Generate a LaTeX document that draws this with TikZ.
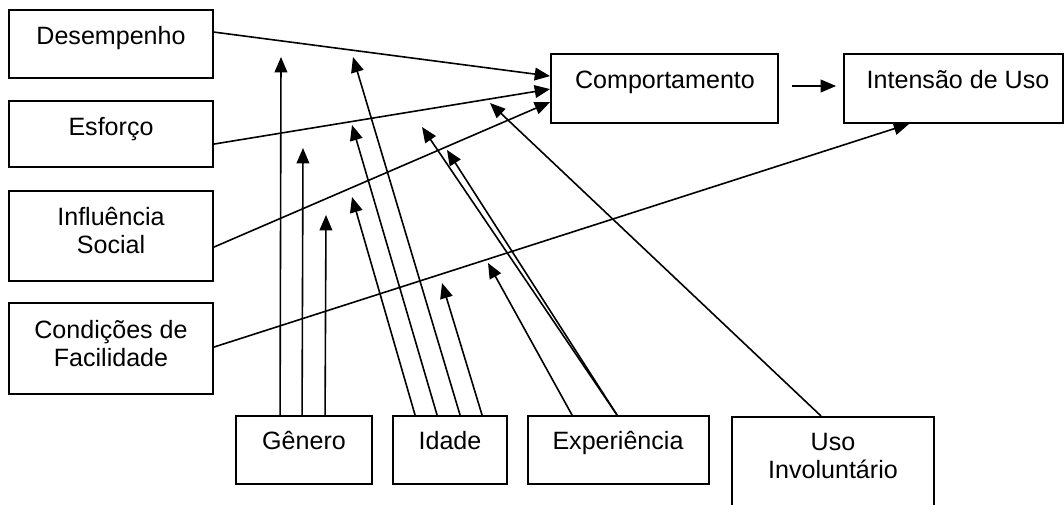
\documentclass[tikz,border=0pt]{standalone}
\usepackage{fontspec}
\setmainfont{Liberation Sans}
\usetikzlibrary{arrows.meta,calc,fit}
\begin{document}
\begin{tikzpicture}[x=0.75pt,y=-0.75pt,
  box/.style={draw, line width=1.4pt, inner sep=0pt},
  lbl/.style={anchor=base, inner sep=0pt, align=center, font=\fontsize{18.8}{21}\selectfont},
  conn/.style={line width=1.2pt, -{Triangle[length=11.5pt,width=9.5pt]}}]
\useasboundingbox (0,0) rectangle (1064,504);
% boxes
\node[box, fit={(9,10)(213,78)}] (des) {};
\node[box, fit={(9,101)(213,167)}] (esf) {};
\node[box, fit={(9,191)(213,281)}] (inf) {};
\node[box, fit={(9,303)(213,394)}] (con) {};
\node[box, fit={(551,54)(778,123)}] (com) {};
\node[box, fit={(844,54)(1063,123)}] (int) {};
\node[box, fit={(236,416)(372,484)}] (gen) {};
\node[box, fit={(393,416)(507,484)}] (ida) {};
\node[box, fit={(528,416)(709,484)}] (exp) {};
\node[box, fit={(732,417)(934,520)}] (uso) {};
% labels (anchor=base is the baseline of the last line)
\node[lbl] (tdes) at (111,44) {Desempenho};
\node[lbl] (tesf) at (111,135) {Esforço};
\node[lbl] (tinf) at (111,253) {Influência\\Social};
\node[lbl] (tcon) at (111,366) {Condições de\\Facilidade};
\node[lbl] (tcom) at (665,88) {Comportamento};
\node[lbl] (tint) at (958,88) {Intensão de Uso};
\node[lbl] (tgen) at (304,449) {Gênero};
\node[lbl] (tida) at (450,449) {Idade};
\node[lbl] (texp) at (618,449) {Experiência};
\node[lbl] (tuso) at (833,478) {Uso\\Involuntário};
% arrow tips (free ends)
\coordinate (g1) at (281,57);
\coordinate (g2) at (303,148);
\coordinate (g3) at (326,215);
\coordinate (i1) at (352,197);
\coordinate (i2) at (352,125);
\coordinate (i3) at (353,57);
\coordinate (i4) at (442,283);
\coordinate (e1) at (488,263);
\coordinate (e2) at (422,127);
\coordinate (e3) at (447,150);
\coordinate (u1) at (490,103);
% main connectors
\draw[conn] ($(des.north east)+(0,23)$) -- ($(com.north west)+(0,23)$);
\draw[conn] ($(esf.north east)+(0,44)$) -- ($(com.north west)+(0,36)$);
\draw[conn] ($(inf.north east)+(0,57)$) -- ($(com.north west)+(0,49)$);
\draw[conn] ($(con.north east)+(0,45)$) -- ($(int.south west)+(66,0)$);
\draw[conn] ($(com.east)+(13,-2.5)$) -- ($(int.west)+(-7,-2.5)$);
% moderators
\draw[conn] ($(gen.north west)+(45,0)$) -- (g1);
\draw[conn] ($(gen.north west)+(67,0)$) -- (g2);
\draw[conn] ($(gen.north west)+(90,0)$) -- (g3);
\draw[conn] ($(ida.north west)+(23,0)$) -- (i1);
\draw[conn] ($(ida.north west)+(45,0)$) -- (i2);
\draw[conn] ($(ida.north west)+(68,0)$) -- (i3);
\draw[conn] ($(ida.north west)+(90,0)$) -- (i4);
\draw[conn] ($(exp.north west)+(45,0)$) -- (e1);
\draw[conn] ($(exp.north west)+(90,0)$) -- (e2);
\draw[conn] ($(exp.north west)+(90,0)$) -- (e3);
\draw[conn] ($(uso.north west)+(90,0)$) -- (u1);
\end{tikzpicture}
\end{document}
